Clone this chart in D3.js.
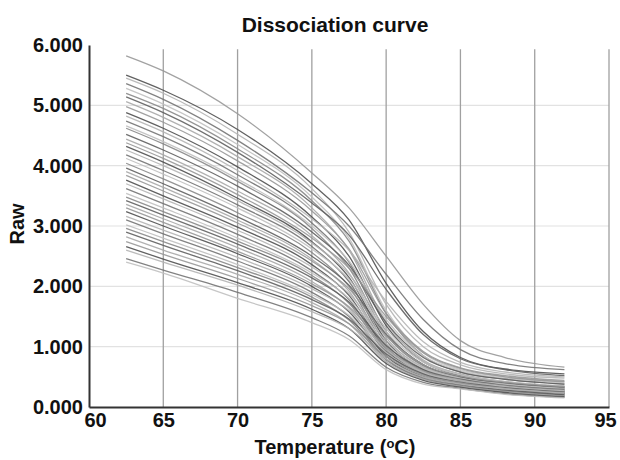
<!DOCTYPE html>
<html>
<head>
<meta charset="utf-8">
<script src="https://cdn.jsdelivr.net/npm/d3@7"></script>
<style>
  body { margin: 0; background: #fff; }
  text { font-family: "Liberation Sans", Arial, sans-serif; font-weight: bold; fill: #111; }
</style>
</head>
<body>
<div id="chart"></div>
<script>
const temps = [62.5, 65, 70, 75, 77.5, 80, 82.5, 85, 88, 92];

// Raw fluorescence per well, one row per curve (values at the temps above)
const highWells = [
    [5.82, 5.57, 4.86, 3.88, 3.30, 2.50, 1.70, 1.10, 0.82, 0.66],
    [5.50, 5.25, 4.60, 3.70, 3.10, 2.05, 1.25, 0.82, 0.63, 0.55],
    [5.45, 5.20, 4.52, 3.62, 2.90, 1.70, 1.00, 0.70, 0.55, 0.48],
    [5.36, 5.10, 4.42, 3.55, 3.00, 2.20, 1.45, 0.95, 0.72, 0.62],
    [5.28, 5.02, 4.35, 3.48, 2.80, 1.60, 0.90, 0.62, 0.50, 0.42],
    [5.20, 4.95, 4.28, 3.42, 2.75, 1.55, 0.85, 0.58, 0.46, 0.38],
    [5.14, 4.88, 4.22, 3.38, 2.85, 1.95, 1.20, 0.80, 0.62, 0.52],
    [5.06, 4.80, 4.15, 3.30, 2.60, 1.40, 0.78, 0.55, 0.42, 0.34],
    [4.98, 4.72, 4.08, 3.25, 2.62, 1.55, 0.92, 0.65, 0.52, 0.44],
    [4.88, 4.62, 3.98, 3.15, 2.50, 1.35, 0.75, 0.52, 0.40, 0.32],
    [4.82, 4.56, 3.92, 3.12, 2.60, 1.75, 1.08, 0.74, 0.58, 0.50],
    [4.74, 4.48, 3.85, 3.05, 2.40, 1.25, 0.70, 0.50, 0.38, 0.30],
    [4.66, 4.40, 3.78, 3.00, 2.42, 1.45, 0.85, 0.60, 0.48, 0.40],
    [4.62, 4.36, 3.74, 2.96, 2.30, 1.20, 0.68, 0.48, 0.37, 0.28],
    [4.52, 4.26, 3.66, 2.90, 2.35, 1.40, 0.82, 0.58, 0.46, 0.38]
];

const midWells = [
    [4.44, 4.18, 3.58, 2.84, 2.22, 1.15, 0.65, 0.46, 0.35, 0.27],
    [4.38, 4.12, 3.52, 2.80, 2.30, 1.50, 0.90, 0.64, 0.50, 0.42],
    [4.32, 4.06, 3.46, 2.74, 2.15, 1.10, 0.62, 0.44, 0.34, 0.26],
    [4.26, 4.00, 3.42, 2.72, 2.20, 1.30, 0.76, 0.54, 0.42, 0.34],
    [4.18, 3.92, 3.35, 2.66, 2.08, 1.05, 0.60, 0.43, 0.33, 0.25],
    [4.12, 3.86, 3.30, 2.62, 2.12, 1.25, 0.74, 0.53, 0.42, 0.35],
    [4.04, 3.78, 3.22, 2.56, 2.00, 1.00, 0.58, 0.42, 0.32, 0.24],
    [3.96, 3.70, 3.15, 2.50, 2.02, 1.20, 0.70, 0.50, 0.40, 0.33],
    [3.90, 3.64, 3.10, 2.45, 1.92, 0.98, 0.56, 0.40, 0.31, 0.23],
    [3.84, 3.58, 3.05, 2.42, 1.96, 1.18, 0.70, 0.51, 0.41, 0.34],
    [3.76, 3.50, 2.98, 2.36, 1.85, 0.95, 0.55, 0.40, 0.30, 0.22],
    [3.70, 3.45, 2.93, 2.32, 1.88, 1.10, 0.66, 0.48, 0.38, 0.31],
    [3.62, 3.37, 2.86, 2.26, 1.78, 0.92, 0.54, 0.40, 0.30, 0.22],
    [3.54, 3.30, 2.80, 2.22, 1.80, 1.05, 0.64, 0.47, 0.37, 0.30]
];

const lowWells = [
    [3.48, 3.24, 2.75, 2.18, 1.72, 0.90, 0.53, 0.39, 0.29, 0.21],
    [3.42, 3.18, 2.70, 2.14, 1.74, 1.02, 0.62, 0.46, 0.36, 0.29],
    [3.36, 3.12, 2.64, 2.08, 1.64, 0.86, 0.51, 0.38, 0.28, 0.20],
    [3.30, 3.06, 2.58, 2.04, 1.66, 0.98, 0.60, 0.45, 0.35, 0.28],
    [3.24, 3.00, 2.54, 2.00, 1.58, 0.84, 0.50, 0.37, 0.28, 0.20],
    [3.16, 2.93, 2.48, 1.96, 1.60, 0.95, 0.58, 0.44, 0.34, 0.27],
    [3.10, 2.87, 2.42, 1.90, 1.50, 0.80, 0.48, 0.36, 0.27, 0.19],
    [3.02, 2.80, 2.36, 1.86, 1.52, 0.90, 0.56, 0.42, 0.33, 0.26],
    [2.96, 2.74, 2.31, 1.82, 1.44, 0.78, 0.47, 0.35, 0.26, 0.18],
    [2.90, 2.68, 2.26, 1.78, 1.46, 0.88, 0.55, 0.41, 0.32, 0.25],
    [2.82, 2.60, 2.20, 1.73, 1.38, 0.75, 0.46, 0.34, 0.25, 0.18],
    [2.74, 2.53, 2.13, 1.68, 1.38, 0.84, 0.53, 0.40, 0.31, 0.24],
    [2.66, 2.45, 2.06, 1.62, 1.30, 0.72, 0.44, 0.33, 0.24, 0.17],
    [2.60, 2.40, 2.02, 1.58, 1.30, 0.80, 0.50, 0.38, 0.30, 0.23],
    [2.46, 2.27, 1.90, 1.48, 1.18, 0.66, 0.41, 0.31, 0.22, 0.16],
    [2.40, 2.22, 1.80, 1.40, 1.12, 0.62, 0.38, 0.30, 0.21, 0.15]
];

// Axis ticks
const xTicks = [60, 65, 70, 75, 80, 85, 90, 95];
const yTicks = [0, 1, 2, 3, 4, 5, 6];

drawChart();

function drawChart() {
    const width = 620, height = 460;
    const margin = {top: 45, right: 11, bottom: 53, left: 89};

    const svg = d3.select("#chart")
        .append("svg")
        .attr("width", width)
        .attr("height", height);

    const xScale = d3.scaleLinear()
        .domain([60, 95])
        .range([margin.left, width - margin.right]);

    const yScale = d3.scaleLinear()
        .domain([0, 6])
        .range([height - margin.bottom, margin.top]);

    // Horizontal grid (light)
    svg.append("g")
        .selectAll("line")
        .data(yTicks.filter(d => d > 0 && d < 6))
        .join("line")
        .attr("x1", xScale(60))
        .attr("x2", xScale(95))
        .attr("y1", d => yScale(d))
        .attr("y2", d => yScale(d))
        .attr("stroke", "#e2e2e2")
        .attr("stroke-width", 1.2);

    // Vertical grid (darker)
    svg.append("g")
        .selectAll("line")
        .data(xTicks.filter(d => d > 60))
        .join("line")
        .attr("x1", d => xScale(d))
        .attr("x2", d => xScale(d))
        .attr("y1", yScale(5.93))
        .attr("y2", yScale(0))
        .attr("stroke", "#a0a0a0")
        .attr("stroke-width", 1.3);

    // Curves
    const wells = [...highWells, ...midWells, ...lowWells];
    const shades = ["#989898", "#505050", "#b4b4b4", "#747474", "#c0c0c0", "#888888", "#606060", "#a8a8a8"];

    const line = d3.line()
        .x((d, i) => xScale(temps[i]))
        .y(d => yScale(d))
        .curve(d3.curveMonotoneX);

    svg.append("g")
        .selectAll("path")
        .data(wells)
        .join("path")
        .attr("d", line)
        .attr("fill", "none")
        .attr("stroke", (d, i) => shades[i % shades.length])
        .attr("stroke-width", 1.3)
        .attr("stroke-opacity", 0.9);

    // Axes
    const xAxis = d3.axisBottom(xScale).tickValues(xTicks).tickSize(0).tickPadding(6);
    const yAxis = d3.axisLeft(yScale).tickValues(yTicks).tickSize(0).tickPadding(6)
        .tickFormat(d3.format(".3f"));

    const gx = svg.append("g")
        .attr("transform", `translate(0,${yScale(0)})`)
        .call(xAxis);
    gx.select(".domain").attr("stroke", "#333").attr("stroke-width", 2);
    gx.selectAll(".tick text")
        .attr("font-size", 20)
        .attr("font-family", "Liberation Sans, Arial, sans-serif")
        .attr("fill", "#111")
        .attr("dx", d => d === 60 ? 6 : d === 95 ? -4 : 0);

    const gy = svg.append("g")
        .attr("transform", `translate(${xScale(60)},0)`)
        .call(yAxis);
    gy.select(".domain").attr("stroke", "#333").attr("stroke-width", 2);
    gy.selectAll(".tick text")
        .attr("font-size", 20)
        .attr("font-family", "Liberation Sans, Arial, sans-serif")
        .attr("fill", "#111");

    // Title
    svg.append("text")
        .attr("x", 335)
        .attr("y", 32)
        .attr("text-anchor", "middle")
        .attr("font-size", 21)
        .text("Dissociation curve");

    // X axis label
    const xl = svg.append("text")
        .attr("x", 335)
        .attr("y", 454)
        .attr("text-anchor", "middle")
        .attr("font-size", 20);
    xl.append("tspan").text("Temperature (");
    xl.append("tspan").attr("font-size", 13).attr("dy", -6).text("o");
    xl.append("tspan").attr("dy", 6).text("C)");

    // Y axis label
    svg.append("text")
        .attr("transform", "rotate(-90)")
        .attr("x", -224)
        .attr("y", 24)
        .attr("text-anchor", "middle")
        .attr("font-size", 20)
        .text("Raw");
}
</script>
</body>
</html>
